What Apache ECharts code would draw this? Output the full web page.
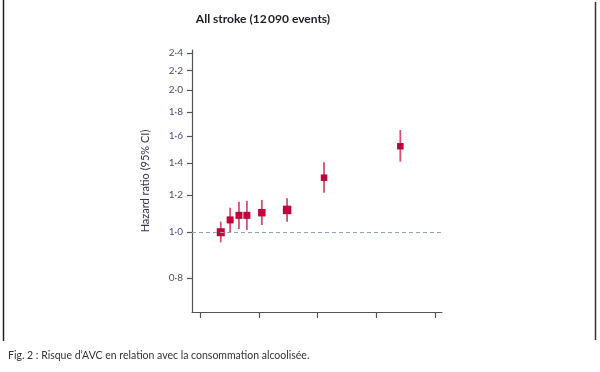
<!DOCTYPE html>
<html>
<head>
<meta charset="utf-8">
<script src="https://cdn.jsdelivr.net/npm/echarts@6/dist/echarts.min.js"></script>
<style>html,body{margin:0;padding:0;background:#fff}#c{width:600px;height:372px}</style>
</head>
<body>
<div id="c"></div>
<script>
// Data (hazard ratios, log scale)
const xValues   = [35, 51, 66, 79.5, 105, 148, 211, 341];
const hr        = [1.00, 1.062, 1.086, 1.086, 1.10, 1.115, 1.305, 1.521];
const ciLow     = [0.952, 1.00, 1.016, 1.011, 1.036, 1.052, 1.213, 1.411];
const ciHigh    = [1.053, 1.127, 1.161, 1.165, 1.171, 1.18, 1.407, 1.647];
const markSizes = [8, 7, 7, 7, 7.5, 8.5, 6.5, 6.5];
const yTickValues = [0.8, 1.0, 1.2, 1.4, 1.6, 1.8, 2.0, 2.2, 2.4];
const xTickValues = [0, 100, 200, 300, 400];
const titleText = 'All stroke (12\u2009090 events)';
const yAxisTitle = 'Hazard ratio (95% CI)';
const captionText = "Fig. 2 : Risque d\u2019AVC en relation avec la consommation alcoolisée.";

const ln = Math.log;
const pts = xValues.map((x, i) => ({ value: [x, ln(hr[i])], symbolSize: markSizes[i] }));
const bars = xValues.map((x, i) => [x, ln(ciLow[i]), ln(ciHigh[i])]);

const chart = echarts.init(document.getElementById('c'), null, { renderer: 'canvas' });
const font = 'Lato, "Open Sans", sans-serif';
chart.setOption({
  animation: false,
  backgroundColor: '#fff',
  title: {
    text: titleText, left: 258, top: 8, textAlign: 'center',
    textStyle: { fontFamily: font, fontSize: 12, fontWeight: 'bold', color: '#1e1e2a' }
  },
  grid: { left: 192, right: 158, top: 50, bottom: 60 },
  xAxis: {
    type: 'value', min: -14, max: 412,
    axisLine: { show: true, onZero: false, lineStyle: { color: '#555', width: 1.2 } },
    axisTick: { show: true, customValues: xTickValues, length: 6, lineStyle: { color: '#555', width: 1.2 } },
    axisLabel: { show: false },
    splitLine: { show: false }
  },
  yAxis: {
    type: 'value', min: -0.389, max: 0.889,
    name: yAxisTitle, nameLocation: 'middle', nameRotate: 90, nameGap: 41,
    nameTextStyle: { fontFamily: font, fontSize: 11, color: '#3a3048' },
    axisLine: { show: true, onZero: false, lineStyle: { color: '#555', width: 1.2 } },
    axisTick: { show: true, customValues: yTickValues.map(ln), length: 5, lineStyle: { color: '#555', width: 1.2 } },
    axisLabel: {
      customValues: yTickValues.map(ln), margin: 9,
      fontFamily: font, fontSize: 10, color: '#44506e',
      formatter: v => Math.exp(v).toFixed(1).replace('.', '\u00b7')
    },
    splitLine: { show: false }
  },
  series: [
    {
      type: 'custom',
      data: bars,
      renderItem: (params, api) => {
        const a = api.coord([api.value(0), api.value(1)]);
        const b = api.coord([api.value(0), api.value(2)]);
        return { type: 'line', shape: { x1: a[0], y1: a[1], x2: b[0], y2: b[1] },
                 style: { stroke: '#d2506e', lineWidth: 1.8 } };
      },
      z: 2
    },
    {
      type: 'scatter',
      symbol: 'rect',
      data: pts,
      itemStyle: { color: '#c0003a', opacity: 1 },
      z: 3,
      markLine: {
        silent: true, symbol: 'none', label: { show: false },
        lineStyle: { color: '#8fa6ad', type: [4, 3], width: 1 },
        data: [{ yAxis: 0 }]
      }
    }
  ],
  graphic: [
    { type: 'line', shape: { x1: 3.5, y1: 0, x2: 3.5, y2: 341 }, style: { stroke: '#222', lineWidth: 1.5 } },
    { type: 'line', shape: { x1: 595.5, y1: 2, x2: 595.5, y2: 340 }, style: { stroke: '#333', lineWidth: 1.5 } },
    { type: 'text', left: 8, top: 350, style: { text: captionText, font: '10.5px ' + font, fill: '#333' } }
  ]
});
</script>
</body>
</html>
